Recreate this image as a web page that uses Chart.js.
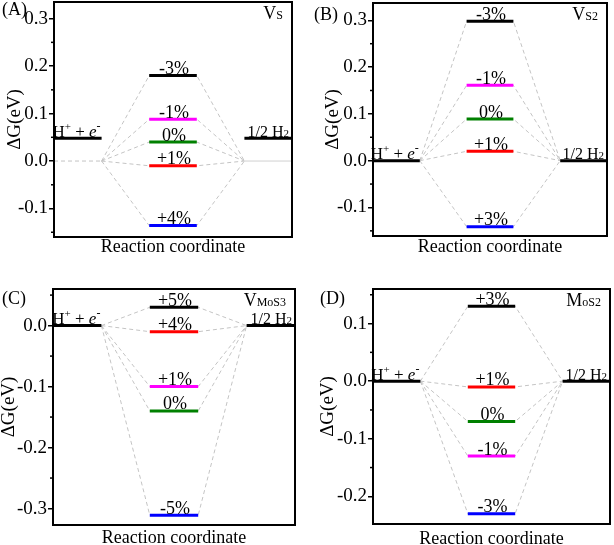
<!DOCTYPE html>
<html><head><meta charset="utf-8">
<script src="https://cdn.jsdelivr.net/npm/chart.js@4/dist/chart.umd.min.js"></script>
<style>
html,body{margin:0;padding:0;background:#fff;overflow:hidden;width:614px;height:545px;position:relative;}
canvas{position:absolute;display:block;}
</style></head><body>
<canvas id="cA" width="307" height="272" style="left:0;top:0"></canvas>
<canvas id="cB" width="307" height="272" style="left:307px;top:0"></canvas>
<canvas id="cC" width="307" height="290" style="left:0;top:272px"></canvas>
<canvas id="cD" width="307" height="290" style="left:307px;top:272px"></canvas>
<script>
// Reaction-coordinate spans (initial state, intermediate H*, final state)
const initialSpan = [0, 1];
const middleSpan = [2, 3];
const finalSpan = [4, 5];

// Panel (A) Vs
const strainA = ['-3%', '-1%', '0%', '+1%', '+4%'];
const dGA = [0.18, 0.088, 0.04, -0.01, -0.136];
const endsA = [0.048, 0.048];
const pivotA = 0;
const yRangeA = [-0.16, 0.335];

// Panel (B) Vs2
const strainB = ['-3%', '-1%', '0%', '+1%', '+3%'];
const dGB = [0.298, 0.161, 0.089, 0.02, -0.141];
const endsB = [0, 0];
const pivotB = 0;
const yRangeB = [-0.161, 0.337];

// Panel (C) VMoS3
const strainC = ['+5%', '+4%', '+1%', '0%', '-5%'];
const dGC = [0.03, -0.01, -0.10, -0.14, -0.311];
const endsC = [0, 0];
const pivotC = 0;
const yRangeC = [-0.327, 0.06];

// Panel (D) MoS2
const strainD = ['+3%', '+1%', '0%', '-1%', '-3%'];
const dGD = [0.13, -0.01, -0.07, -0.13, -0.23];
const endsD = [0, 0];
const pivotD = 0;
const yRangeD = [-0.248, 0.16];

const panelNames = ['(A)', '(B)', '(C)', '(D)'];
const siteA = ['V', 'S'];
const siteB = ['V', 'S2'];
const siteC = ['V', 'MoS3'];
const siteD = ['M', 'oS2'];
const yStep = 0.1;
const yMinorStep = 0.05;

// styles
const colorsA = ['#000000', '#ff00ff', '#008000', '#ff0000', '#0000ff'];
const colorsB = ['#000000', '#ff00ff', '#008000', '#ff0000', '#0000ff'];
const colorsC = ['#000000', '#ff0000', '#ff00ff', '#008000', '#0000ff'];
const colorsD = ['#000000', '#ff0000', '#008000', '#ff00ff', '#0000ff'];
const FONT = '"Liberation Serif", "Times New Roman", serif';

function drawRich(ctx, segs, x, y, align) {
  let w = 0;
  segs.forEach(s => { ctx.font = (s[2] ? 'italic ' : '') + s[1] + 'px ' + FONT; w += ctx.measureText(s[0]).width; });
  let cx = align === 'right' ? x - w : (align === 'center' ? x - w / 2 : x);
  ctx.textAlign = 'left';
  ctx.textBaseline = 'alphabetic';
  segs.forEach(s => {
    ctx.font = (s[2] ? 'italic ' : '') + s[1] + 'px ' + FONT;
    ctx.fillText(s[0], cx, y + s[3]);
    cx += ctx.measureText(s[0]).width;
  });
}

function makePanel(id, p) {
  const datasets = [];
  const base = { type: 'line', pointRadius: 0, fill: false, tension: 0 };
  p.values.forEach(v => {
    datasets.push(Object.assign({}, base, {
      data: [{ x: initialSpan[1], y: p.pivot }, { x: middleSpan[0], y: v }, { x: middleSpan[1], y: v }, { x: finalSpan[0], y: p.pivot }],
      borderColor: '#c4c4c4', borderWidth: 1, borderDash: [4, 3], order: 3
    }));
  });
  if (p.ends[0] !== p.pivot) {
    datasets.push(Object.assign({}, base, {
      data: [{ x: initialSpan[0], y: p.pivot }, { x: initialSpan[1], y: p.pivot }],
      borderColor: '#c4c4c4', borderWidth: 1, borderDash: [4, 3], order: 3
    }));
    datasets.push(Object.assign({}, base, {
      data: [{ x: finalSpan[0], y: p.pivot }, { x: finalSpan[1], y: p.pivot }],
      borderColor: '#d0d0d0', borderWidth: 1, order: 3
    }));
  }
  datasets.push(Object.assign({}, base, {
    data: [{ x: initialSpan[0], y: p.ends[0] }, { x: initialSpan[1], y: p.ends[0] }],
    borderColor: '#000', borderWidth: 3, order: 1
  }));
  datasets.push(Object.assign({}, base, {
    data: [{ x: finalSpan[0], y: p.ends[1] }, { x: finalSpan[1], y: p.ends[1] }],
    borderColor: '#000', borderWidth: 3, order: 1
  }));
  p.values.forEach((v, i) => {
    datasets.push(Object.assign({}, base, {
      label: p.strains[i],
      data: [{ x: middleSpan[0], y: v }, { x: middleSpan[1], y: v }],
      borderColor: p.colors[i], borderWidth: 3, order: 1
    }));
  });

  const textPlugin = {
    id: 'levelText' + id,
    afterDatasetsDraw(chart) {
      const ctx = chart.ctx, xs = chart.scales.x, ys = chart.scales.y, a = chart.chartArea;
      ctx.save();
      ctx.fillStyle = '#000';
      p.values.forEach((v, i) => {
        const cx = (xs.getPixelForValue(middleSpan[0]) + xs.getPixelForValue(middleSpan[1])) / 2;
        drawRich(ctx, [[p.strains[i], 18, false, 0]], cx + 1, ys.getPixelForValue(v) - 1.5, 'center');
      });
      drawRich(ctx, [['H', 17, false, 0], ['+', 11, false, -7], [' + ', 17, false, 0], ['e', 17, true, 0], ['-', 12, false, -7]],
        xs.getPixelForValue(initialSpan[1]) - 1, ys.getPixelForValue(p.ends[0]) - 1.5, 'right');
      drawRich(ctx, [['1/2 H', 16, false, 0], ['2', 11, false, 0]],
        xs.getPixelForValue(finalSpan[1]) - 3, ys.getPixelForValue(p.ends[1]) - 1.5, 'right');
      drawRich(ctx, [[p.site[0], 18, false, 0], [p.site[1], 12, false, 0]], a.right - 9, a.top + 17, 'right');
      ctx.restore();
    },
    afterDraw(chart) {
      const ctx = chart.ctx, a = chart.chartArea, ys = chart.scales.y;
      ctx.save();
      ctx.strokeStyle = '#000';
      ctx.lineWidth = 1.5;
      for (let k = Math.ceil(ys.min / yMinorStep); k * yMinorStep <= ys.max; k++) {
        if (k % 2 === 0) continue;
        const py = ys.getPixelForValue(k * yMinorStep);
        ctx.beginPath(); ctx.moveTo(a.left - 3, py); ctx.lineTo(a.left, py); ctx.stroke();
      }
      ctx.lineWidth = 2;
      ctx.strokeRect(a.left, a.top, a.right - a.left, a.bottom - a.top);
      ctx.fillStyle = '#000';
      drawRich(ctx, [[p.name, 18, false, 0]], p.nameX, p.nameY, 'left');
      ctx.restore();
    }
  };

  return new Chart(document.getElementById(id), {
    type: 'line',
    data: { datasets },
    plugins: [textPlugin],
    options: {
      responsive: false, animation: false, events: [],
      layout: { padding: { left: 0, right: p.padR, top: p.padT, bottom: p.padB } },
      plugins: { legend: { display: false }, tooltip: { enabled: false } },
      scales: {
        x: {
          type: 'linear', min: initialSpan[0], max: finalSpan[1],
          ticks: { display: false }, grid: { display: false }, border: { display: false },
          title: { display: true, text: 'Reaction coordinate', color: '#000', font: { family: FONT, size: 18 }, padding: { top: 0, bottom: 0 } },
          afterFit: s => { s.height = p.xH; s.paddingLeft = 0; s.paddingRight = 0; }
        },
        y: {
          type: 'linear', min: p.yRange[0], max: p.yRange[1],
          ticks: { stepSize: yStep, includeBounds: false, color: '#000', padding: 1, font: { family: FONT, size: 19 }, callback: v => v.toFixed(1), autoSkip: false },
          grid: { drawOnChartArea: false, tickLength: 5, color: '#000', lineWidth: 1.5 },
          border: { display: false },
          title: { display: true, text: 'ΔG(eV)', color: '#000', font: { family: FONT, size: 19, lineHeight: 1 }, padding: { top: p.yTitlePad, bottom: 0 } },
          afterFit: s => { s.width = p.yW; s.paddingTop = 0; s.paddingBottom = 0; }
        }
      }
    }
  });
}

makePanel('cA', { values: dGA, strains: strainA, colors: colorsA, ends: endsA, pivot: pivotA, yRange: yRangeA, site: siteA, name: panelNames[0],
  nameX: 2, nameY: 15, yW: 54, padR: 15, padT: 2, xH: 21.3, padB: 13.7, yTitlePad: 6 });
makePanel('cB', { values: dGB, strains: strainB, colors: colorsB, ends: endsB, pivot: pivotB, yRange: yRangeB, site: siteB, name: panelNames[1],
  nameX: 7, nameY: 19.5, yW: 66, padR: 7, padT: 3, xH: 22.2, padB: 13.8, yTitlePad: 16.5 });
makePanel('cC', { values: dGC, strains: strainC, colors: colorsC, ends: endsC, pivot: pivotC, yRange: yRangeC, site: siteC, name: panelNames[2],
  nameX: 2, nameY: 32, yW: 53, padR: 12, padT: 17, xH: 23.9, padB: 13.1, yTitlePad: 0 });
makePanel('cD', { values: dGD, strains: strainD, colors: colorsD, ends: endsD, pivot: pivotD, yRange: yRangeD, site: siteD, name: panelNames[3],
  nameX: 13, nameY: 32, yW: 66, padR: 4, padT: 17, xH: 26.5, padB: 11.5, yTitlePad: 11.5 });
</script>
</body></html>
